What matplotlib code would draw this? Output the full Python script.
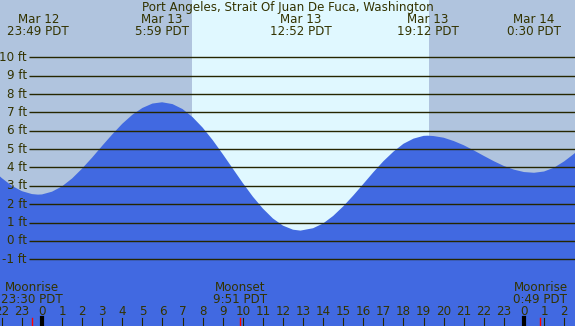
import matplotlib
matplotlib.use("Agg")
import matplotlib.pyplot as plt
import matplotlib.transforms as mtransforms


# ---------------- DATA ----------------
title = "Port Angeles, Strait Of Juan De Fuca, Washington"

# hours from Mar 13 0:00 PDT, tide height in ft
tide_hours = [-3, -2.5, -2, -1.5, -1, -0.5, -0.2,
              0, 0.5, 1, 1.5, 2, 2.5, 3, 3.5, 4, 4.5, 5, 5.5, 5.98,
              6.5, 7, 7.5, 8, 8.5, 9, 9.5, 10, 10.5, 11, 11.5, 12, 12.5, 12.87,
              13.5, 14, 14.5, 15, 15.5, 16, 16.5, 17, 17.5, 18, 18.5, 19, 19.2,
              19.5, 20, 20.5, 21, 21.5, 22, 22.5, 23, 23.5, 24, 24.5,
              25, 25.5, 26, 26.5, 27]
tide_heights = [4.49, 3.91, 3.42, 3.00, 2.71, 2.55, 2.52,
                2.53, 2.68, 2.97, 3.40, 3.94, 4.54, 5.18, 5.80, 6.38, 6.87,
                7.24, 7.48, 7.55,
                7.45, 7.18, 6.74, 6.17, 5.49, 4.73, 3.94, 3.15, 2.41, 1.76,
                1.22, 0.83, 0.61, 0.56,
                0.69, 0.95, 1.36, 1.88, 2.47, 3.10, 3.74, 4.34, 4.86, 5.29,
                5.57, 5.72, 5.73,
                5.71, 5.62, 5.44, 5.21, 4.93, 4.63, 4.34, 4.08, 3.88, 3.75,
                3.71, 3.78, 3.99, 4.33, 4.75, 5.24]

# high / low tide labels
event_hours = [-0.18, 5.98, 12.87, 19.2, 24.5]
event_dates = ["Mar 12", "Mar 13", "Mar 13", "Mar 13", "Mar 14"]
event_times = ["23:49 PDT", "5:59 PDT", "12:52 PDT", "19:12 PDT", "0:30 PDT"]

# moon events
moon_hours = [-0.5, 9.85, 24.82]
moon_names = ["Moonrise", "Moonset", "Moonrise"]
moon_times = ["23:30 PDT", "9:51 PDT", "0:49 PDT"]

sunrise = 7.455
sunset = 19.27

ft_levels = list(range(-1, 11))
hour_ticks = list(range(-2, 27))

# ---------------- STYLE ----------------
night_color = "#B0C4DE"
day_color = "#E0F8FF"
tide_color = "#4169E1"
text_color = "#333300"
line_color = "#262600"
fs = 8.6

W, H = 575, 326
x_left, x_right = -2.09, 26.54
y_bottom, y_top = -4.635, 13.12


def ypix(p):
    # pixel row from top -> axes fraction
    return 1 - p / H


# ---------------- DRAW ----------------
fig = plt.figure(figsize=(W / 100, H / 100), dpi=100)
fig.patch.set_facecolor(night_color)
ax = fig.add_axes([0, 0, 1, 1])
ax.set_xlim(x_left, x_right)
ax.set_ylim(y_bottom, y_top)
ax.axis("off")

trans = mtransforms.blended_transform_factory(ax.transData, ax.transAxes)

# daylight
ax.axvspan(sunrise, sunset, color=day_color, lw=0, zorder=0)

# tide
ax.fill_between(tide_hours, tide_heights, y_bottom - 5, color=tide_color,
                lw=0, zorder=1)

# grid lines + labels
grid_start = (29 - 42) / 20.08
for lvl in ft_levels:
    ax.hlines(lvl, grid_start, x_right + 1, color=line_color, lw=1.0, zorder=2)
    ax.text((27 - 42) / 20.08, lvl, f"{lvl} ft", ha="right", va="center",
            fontsize=fs, color=text_color, zorder=3)

# title
ax.text(0.5, ypix(7), title, transform=ax.transAxes, ha="center",
        va="center", fontsize=fs, color=text_color)

# tide event labels
for h, d, t in zip(event_hours, event_dates, event_times):
    ax.text(h, ypix(19.5), d, transform=trans, ha="center", va="center",
            fontsize=fs, color=text_color)
    ax.text(h, ypix(31.5), t, transform=trans, ha="center", va="center",
            fontsize=fs, color=text_color)

# moon labels
for h, n, t in zip(moon_hours, moon_names, moon_times):
    ax.text(h, ypix(287.5), n, transform=trans, ha="center", va="center",
            fontsize=fs, color=text_color)
    ax.text(h, ypix(299.5), t, transform=trans, ha="center", va="center",
            fontsize=fs, color=text_color)
    ax.axvline(h, ymin=0, ymax=8 / H, color="red", lw=1, zorder=4)

# hour labels and ticks
for h in hour_ticks:
    ax.text(h, ypix(311.5), str(h % 24), transform=trans, ha="center",
            va="center", fontsize=fs, color=text_color)
    if h % 24 == 0:
        ax.axvline(h, ymin=0, ymax=8 / H, color="black", lw=3, zorder=4)
    else:
        ax.axvline(h, ymin=0, ymax=8 / H, color=line_color, lw=0.8, zorder=4)

fig.savefig("out.png", dpi=100, facecolor=fig.get_facecolor())
